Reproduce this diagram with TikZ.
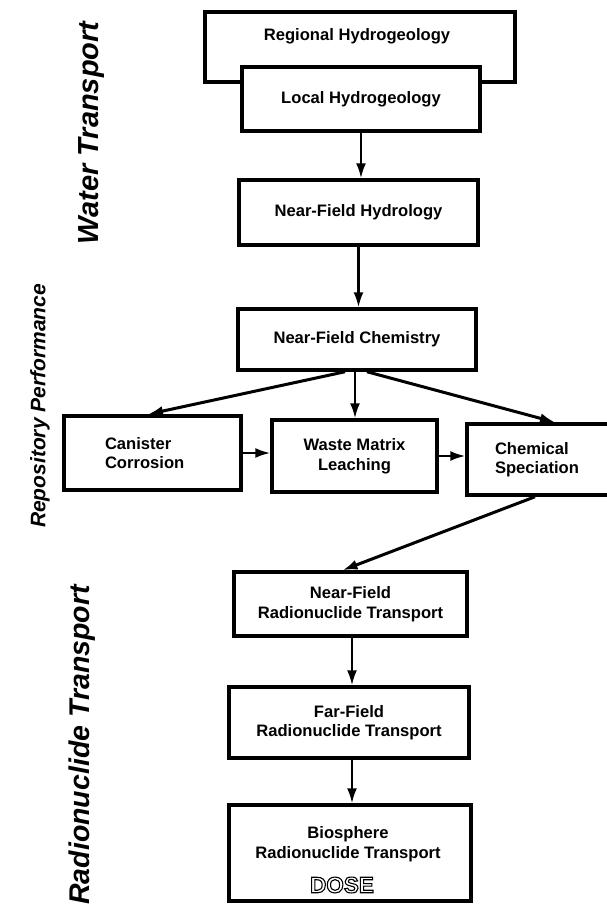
\documentclass[tikz,border=0pt]{standalone}
\usepackage{fontspec}
\setmainfont{Liberation Sans}
\usetikzlibrary{arrows.meta}
% stroked (hollow) lettering via PDF text render mode
\newcommand\hollowtext[1]{\special{pdf:literal direct 1 Tr 1.1 w}#1\special{pdf:literal direct 0 Tr}}
\begin{document}
\begin{tikzpicture}[x=1pt,y=-1pt,
  boxfont/.style={font=\bfseries\fontsize{16.6}{19.5}\selectfont},
  box/.style={draw, line width=3.5pt, fill=white, inner sep=0pt, align=center, boxfont},
  txt/.style={inner sep=0pt, align=center, boxfont},
  side/.style={rotate=90, inner sep=0pt},
  arr/.style={line width=2.2pt, -{Latex[length=15pt,width=10pt]}},
  darr/.style={arr, line width=3pt},
  dosef/.style={inner sep=0pt, font=\bfseries\fontsize{22.5}{26}\selectfont}]
\useasboundingbox (0,0) rectangle (607,907);

% side headings
\node[side, font=\bfseries\itshape\fontsize{29}{32}\selectfont] (wt) at (92,133) {Water Transport};
\node[side, font=\bfseries\itshape\fontsize{21}{24}\selectfont] (rp) at (40,406) {Repository Performance};
\node[side, font=\bfseries\itshape\fontsize{28.5}{32}\selectfont] (rt) at (82,745) {Radionuclide Transport};

% water transport
\node[box, minimum width=310pt, minimum height=70pt] (reg) at (360,47) {};
\node[txt] (regt) at (357,36) {Regional Hydrogeology};
\node[box, minimum width=238pt, minimum height=64pt] (loc) at (361,99) {Local Hydrogeology};
\node[box, minimum width=239pt, minimum height=65pt] (nfh) at (358.5,212.5) {Near-Field Hydrology};

% repository performance
\node[box, minimum width=238pt, minimum height=61pt] (nfc) at (357,339.5) {Near-Field Chemistry};
\node[box, minimum width=177pt, minimum height=74pt, text width=95pt, align=left] (can) at (152.5,453) {Canister\\Corrosion};
\node[box, minimum width=165pt, minimum height=72pt] (wml) at (354.5,456) {Waste Matrix\\Leaching};
\node[box, minimum width=176pt, minimum height=71pt, text width=120pt, align=left] (chs) at (555,459.5) {Chemical\\Speciation};

% radionuclide transport
\node[box, minimum width=233pt, minimum height=64pt] (nfr) at (350.5,604) {Near-Field\\Radionuclide Transport};
\node[box, minimum width=240pt, minimum height=71pt] (ffr) at (349,722.5) {Far-Field\\Radionuclide Transport};
\node[box, minimum width=242pt, minimum height=96pt] (bio) at (350,853) {};
\node[txt] (biot) at (348,844) {Biosphere\\Radionuclide Transport};
\node[dosef] (dose) at (342,885) {\hollowtext{DOSE}};

% connectors
\draw[arr] (loc.south) -- (loc.south |- nfh.north);
\draw[arr] (nfh.south) -- (nfh.south |- nfc.north);
\draw[darr] ([xshift=-12pt]nfc.south) -- ([xshift=-4.5pt]can.north);
\draw[arr] ([xshift=-2pt]nfc.south) -- ([xshift=-2pt]nfc.south |- wml.north);
\draw[darr] ([xshift=10pt]nfc.south) -- (chs.north);
\draw[arr] (can.east) -- (can.east -| wml.west);
\draw[arr] (wml.east) -- (wml.east -| chs.west);
\draw[darr] ([xshift=-20pt]chs.south) -- ([xshift=-8pt]nfr.north);
\draw[arr] ([xshift=1.5pt]nfr.south) -- ([xshift=1.5pt]nfr.south |- ffr.north);
\draw[arr] ([xshift=3pt]ffr.south) -- ([xshift=3pt]ffr.south |- bio.north);
\end{tikzpicture}
\end{document}
